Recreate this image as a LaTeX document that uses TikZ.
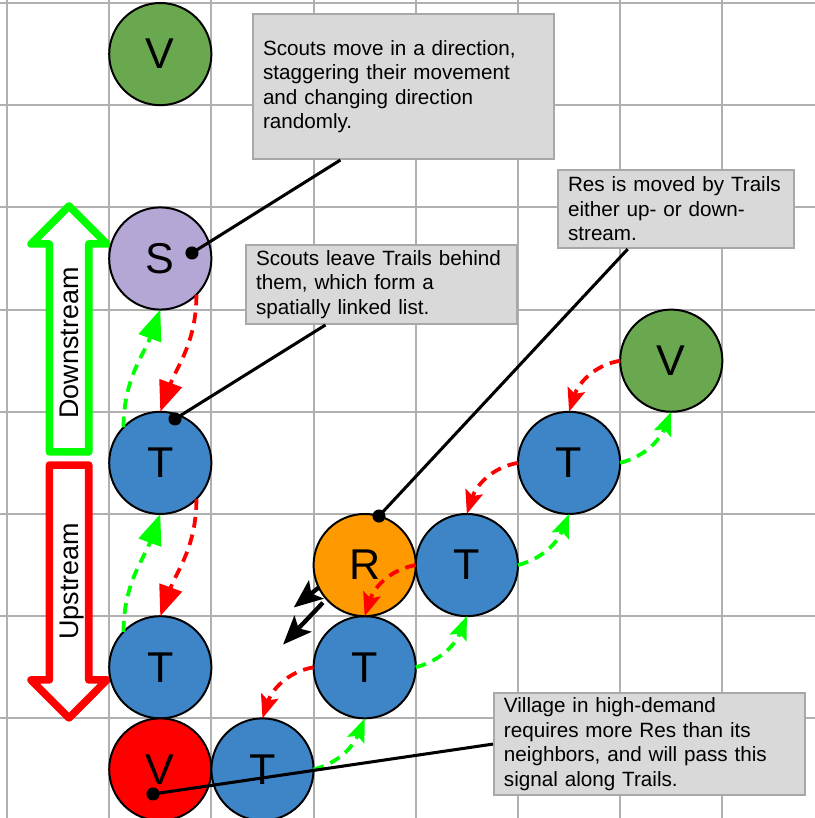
\documentclass[tikz,border=0pt]{standalone}
\usepackage{fontspec}
\setmainfont{Liberation Sans}
\usetikzlibrary{arrows.meta,positioning,calc}

\definecolor{gridgray}{HTML}{B0B0B0}
\definecolor{boxgray}{HTML}{D9D9D9}
\definecolor{boxedge}{HTML}{A8A8A8}
\definecolor{villgreen}{HTML}{6AA84F}
\definecolor{trailblue}{HTML}{3D85C6}
\definecolor{scoutpurple}{HTML}{B4A7D6}
\definecolor{resorange}{HTML}{FF9900}
\definecolor{brightgreen}{HTML}{00FF00}
\definecolor{brightred}{HTML}{FF0000}

\begin{document}
\begin{tikzpicture}[
  x=2cm,y=2cm,
  agent/.style={circle,draw,line width=1.1pt,outer sep=0pt,minimum size=2cm,inner sep=0pt,font=\fontsize{24}{28}\selectfont},
  note/.style={draw=boxedge,fill=boxgray,line width=1.1pt,anchor=north west,align=left,inner xsep=5.6pt,inner ysep=0pt,font=\fontsize{11.5}{13.6}\selectfont},
  gridline/.style={draw=gridgray,line width=1.1pt,step=2cm},
  hollow/.style={line width=4.2pt,fill=white,line join=round},
  lbl/.style={rotate=90,text depth=0pt,inner sep=0pt,font=\fontsize{15}{18}\selectfont},
  flow/.style={line width=2.1pt,dash pattern=on 6pt off 4pt},
  dstream/.style={flow,brightgreen},
  ustream/.style={flow,brightred},
  bigtip/.style={-{Triangle[length=17pt,width=13pt]}},
  smalltip/.style={-{Stealth[length=13pt,width=10pt,inset=2.5pt]}},
  mvarr/.style={-{Stealth[length=16pt,width=13pt,inset=3.5pt]},line width=2.4pt},
  leader/.style={line width=1.7pt},
  pindot/.style={circle,fill,inner sep=0pt,minimum size=7.3pt}
]
\clip (-0.0685,0.0294) rectangle (7.906,-7.975);

% background grid
\draw[gridline] (-0.1,-8) grid (8,0.1);

% up/down stream arrows
\draw[hollow,draw=brightgreen] (0.415,-4.393) -- (0.415,-2.358) -- (0.235,-2.358) -- (0.607,-1.986)
  -- (0.978,-2.358) -- (0.80,-2.358) -- (0.80,-4.393) -- cycle;
\draw[hollow,draw=brightred] (0.415,-4.521) -- (0.415,-6.624) -- (0.235,-6.624) -- (0.607,-6.996)
  -- (0.978,-6.624) -- (0.80,-6.624) -- (0.80,-4.521) -- cycle;
\node[lbl] (dlabel) at (0.607,-3.327) {Downstream};
\node[lbl] (ulabel) at (0.607,-5.660) {Upstream};

% agents
\node[agent,fill=villgreen]   (vil1)   at (1.5,-0.5) {V};
\node[agent,fill=scoutpurple] (scout)  at (1.5,-2.5) {S};
\node[agent,fill=trailblue]   (trl1)   at (1.5,-4.5) {T};
\node[agent,fill=trailblue]   (trl2)   at (1.5,-6.5) {T};
\node[agent,fill=brightred]   (vilred) at (1.5,-7.5) {V};
\node[agent,fill=trailblue,right=0pt of vilred] (trl3) {T};
\node[agent,fill=trailblue]   (trl4)   at (3.5,-6.5) {T};
\node[agent,fill=resorange,above=0pt of trl4]   (res)  {R};
\node[agent,fill=trailblue,right=0pt of res]    (trl5) {T};
\node[agent,fill=trailblue]   (trl6)   at (5.5,-4.5) {T};
\node[agent,fill=villgreen]   (vil2)   at (6.5,-3.5) {V};

% trail links
\draw[dstream,bigtip] (trl1.136) to[out=90,in=-110] (scout.south);
\draw[ustream,bigtip] (scout.-45) to[out=-90,in=70] (trl1.north);
\draw[dstream,bigtip] (trl2.136) to[out=90,in=-110] (trl1.south);
\draw[ustream,bigtip] (trl1.-45) to[out=-90,in=70] (trl2.north);

\draw[ustream,smalltip] (vil2.west) to[out=190,in=72] (trl6.north);
\draw[dstream,smalltip] (trl6.east) to[out=15,in=-112] (vil2.south);
\draw[ustream,smalltip] (trl6.west) to[out=190,in=72] (trl5.north);
\draw[dstream,smalltip] (trl5.east) to[out=15,in=-112] (trl6.south);
\draw[ustream,smalltip] (trl5.west) to[out=190,in=72] (trl4.north);
\draw[dstream,smalltip] (trl4.east) to[out=15,in=-112] (trl5.south);
\draw[ustream,smalltip] (trl4.west) to[out=190,in=72] (trl3.north);
\draw[dstream,smalltip] (trl3.east) to[out=15,in=-112] (trl4.south);

% Res moving
\coordinate (mv1s) at (res.206);
\coordinate (mv1)  at ($(mv1s)+(-0.245,-0.196)$);
\coordinate (mv2s) at ($(res)+(222:0.55)$);
\coordinate (mv2)  at ($(mv2s)+(-0.39,-0.41)$);
\draw[mvarr] (mv1s) -- (mv1);
\draw[mvarr] (mv2s) -- (mv2);

% notes
\node[note,text width=5.496cm,minimum height=2.838cm] (nmove) at (2.397,-0.098)
  {Scouts move in a direction,\\staggering their movement\\and changing direction\\randomly.};
\node[note,text width=4.906cm,minimum height=1.546cm] (ntrail) at (2.329,-2.358)
  {Scouts leave Trails behind\\them, which form a\\spatially linked list.};
\node[note,text width=4.226cm,minimum height=1.53cm] (nres) at (5.382,-1.624)
  {Res is moved by Trails\\either up- or down-\\stream.};
\node[note,text width=5.696cm,minimum height=2.0cm] (nvil) at (4.755,-6.742)
  {Village in high-demand\\requires more Res than its\\neighbors, and will pass this\\signal along Trails.};

% pointers
\node[pindot] (sdot) at ($(scout)+(0.310,0.054)$) {};
\node[pindot] (tdot) at ($(trl1)+(0.144,0.430)$) {};
\node[pindot] (rdot) at ($(res)+(0.140,0.480)$) {};
\node[pindot] (vdot) at ($(vilred)+(-0.071,-0.240)$) {};
\draw[leader] ($(nmove.south west)!0.292!(nmove.south east)$) -- (sdot.center);
\draw[leader] ($(ntrail.south west)!0.295!(ntrail.south east)$) -- (tdot.center);
\draw[leader] ($(nres.south west)!0.297!(nres.south east)$) -- (rdot.center);
\draw[leader] (nvil.west) -- (vdot.center);
\end{tikzpicture}
\end{document}
